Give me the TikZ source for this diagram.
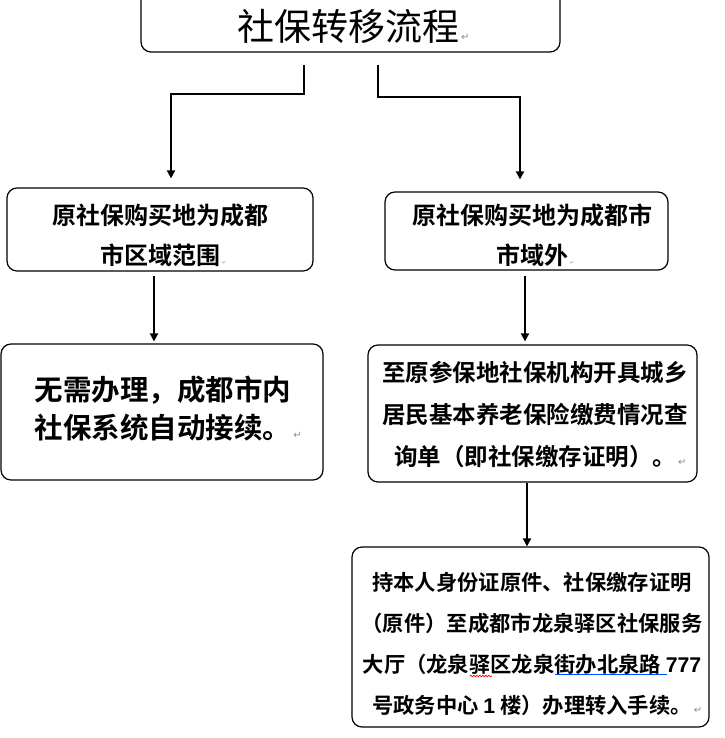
\documentclass[tikz,border=0pt]{standalone}
\usepackage{fontspec}
\newfontfamily\cjk{Noto Sans CJK SC}
\newfontfamily\cjkb{Noto Sans CJK SC Bold}
\newfontfamily\dejavu{DejaVu Sans}
\newfontfamily\numfont{Liberation Sans}
\usetikzlibrary{arrows.meta,decorations.pathmorphing}
\newcommand\pmark[1]{\rlap{\hspace{2pt}\dejavu\fontsize{#1}{#1}\selectfont\color{black!45}↵}}
\tikzset{
  box/.style={draw, line width=1.2pt, rounded corners=10pt, inner sep=0pt},
  arr/.style={line width=1.8pt, -{Triangle[width=8pt,length=8pt]}},
  txt/.style={align=center, inner sep=0pt}
}
\begin{document}
\begin{tikzpicture}[x=1pt,y=-1pt]
\useasboundingbox (0,0) rectangle (724,738);
% title
\node[box, minimum width=419pt, minimum height=66pt] (titlebox) at (350.5,19) {};
\node[txt, font={\cjk\fontsize{37}{37}\selectfont}] (title) at (348,26) {社保转移流程\pmark{10}};
% boxes
\node[box, minimum width=306pt, minimum height=83pt] (boxA) at (160,229.5) {};
\node[txt, font={\cjkb\fontsize{24}{40}\selectfont}] (textA) at (160,235) {原社保购买地为成都\\市区域范围\pmark{5}};
\node[box, minimum width=283pt, minimum height=78pt] (boxB) at (526.5,231) {};
\node[txt, font={\cjkb\fontsize{24}{40}\selectfont}] (textB) at (532,235) {原社保购买地为成都市\\市域外\pmark{5}};
\node[box, minimum width=322pt, minimum height=136pt] (boxC) at (162,412) {};
\node[txt, font={\cjkb\fontsize{28.5}{38}\selectfont}] (textC) at (163,409) {无需办理，成都市内\\社保系统自动接续。\pmark{10}};
\node[box, minimum width=329pt, minimum height=137pt] (boxD) at (532.5,413.5) {};
\node[txt, font={\cjkb\fontsize{23.5}{42}\selectfont}] (textD) at (535,415) {至原参保地社保机构开具城乡\\居民基本养老保险缴费情况查\\询单（即社保缴存证明）。\pmark{10}};
\node[box, minimum width=357pt, minimum height=180pt] (boxE) at (530.5,637) {};
\node[txt, font={\cjkb\fontsize{21.3}{41}\selectfont}] (textE) at (532,644) {持本人身份证原件、社保缴存证明\\（原件）至成都市龙泉驿区社保服务\\大厅（龙泉驿区龙泉街办北泉路 {\numfont\bfseries 777}\\号政务中心 {\numfont\bfseries 1} 楼）办理转入手续。\pmark{10}};
% spell-check underlines
\draw[red, line width=0.7pt, decorate, decoration={snake, amplitude=0.8pt, segment length=3pt}] (470,676) -- (492,676);
\draw[blue!70!cyan, line width=1pt] (555,674) -- (667,674);
% connectors
\coordinate (startL) at (304,65);
\coordinate (startR) at (378,65);
\draw[arr, shorten >=9pt] (startL) -- ++(0,29) -| ([xshift=11pt]boxA.north);
\draw[arr, shorten >=12pt] (startR) -- ++(0,32) -| ([xshift=-6.5pt]boxB.north);
\draw[arr, shorten >=2pt] ([xshift=-6pt,yshift=-4pt]boxA.south) -- ([xshift=-8pt]boxC.north);
\draw[arr, shorten >=3pt] ([xshift=-1.5pt,yshift=-5pt]boxB.south) -- ([xshift=-7.5pt]boxD.north);
\draw[arr] ([xshift=-5.5pt]boxD.south) -- ([xshift=-3.5pt]boxE.north);
\end{tikzpicture}
\end{document}
